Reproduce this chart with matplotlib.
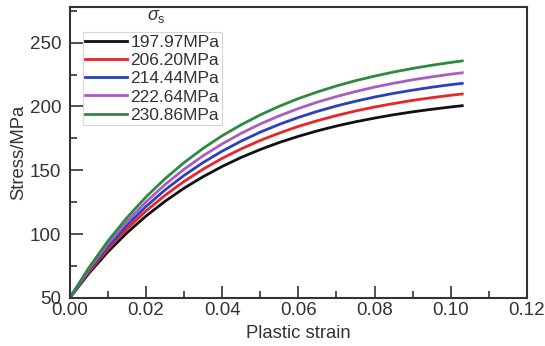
import numpy as np
import matplotlib.pyplot as plt

plt.rcParams['font.family'] = ['Liberation Sans', 'DejaVu Sans']
plt.rcParams['mathtext.fontset'] = 'custom'
plt.rcParams['mathtext.it'] = 'Liberation Sans:italic'
plt.rcParams['mathtext.rm'] = 'Liberation Sans'

# strain points and stress values
strain = [0.0, 0.005, 0.01, 0.015, 0.02, 0.025, 0.03, 0.035, 0.04, 0.045, 0.05,
          0.055, 0.06, 0.065, 0.07, 0.075, 0.08, 0.085, 0.09, 0.095, 0.1, 0.103]
s_19797 = [50, 69.2, 86.1, 101.0, 114.1, 125.7, 136.0, 145.0, 153.0, 160.1, 166.3,
           171.8, 176.6, 180.9, 184.7, 188.0, 190.9, 193.5, 195.8, 197.8, 199.6, 200.6]
s_20620 = [50, 70.3, 88.3, 104.1, 118.1, 130.4, 141.3, 150.9, 159.4, 166.8, 173.4,
           179.2, 184.4, 188.9, 192.9, 196.5, 199.6, 202.3, 204.8, 206.9, 208.8, 209.8]
s_21444 = [50, 71.4, 90.3, 106.9, 121.6, 134.6, 146.0, 156.1, 165.0, 172.9, 179.9,
           186.0, 191.4, 196.2, 200.4, 204.1, 207.4, 210.3, 212.8, 215.1, 217.1, 218.1]
s_22264 = [50, 72.4, 92.2, 109.7, 125.2, 138.8, 150.8, 161.4, 170.7, 179.0, 186.3,
           192.7, 198.4, 203.4, 207.8, 211.7, 215.2, 218.2, 220.9, 223.2, 225.3, 226.4]
s_23086 = [50, 73.6, 94.5, 112.9, 129.1, 143.4, 156.0, 167.2, 177.1, 185.7, 193.4,
           200.2, 206.2, 211.4, 216.1, 220.2, 223.8, 227.0, 229.8, 232.3, 234.5, 235.7]

labels = ['197.97MPa', '206.20MPa', '214.44MPa', '222.64MPa', '230.86MPa']
colors = ['#111111', '#e8262a', '#2b3fbf', '#a95cc4', '#2e8b3e']
series = [s_19797, s_20620, s_21444, s_22264, s_23086]

fig = plt.figure(figsize=(5.45, 3.46), dpi=100)
ax = fig.add_axes([0.128, 0.139, 0.839, 0.841])

for ys, c, lab in zip(series, colors, labels):
    ax.plot(strain, ys, color=c, lw=2, label=lab)

ax.set_xlim(0, 0.12)
ax.set_ylim(50, 278)
ax.set_xticks(np.arange(0, 0.121, 0.02))
ax.set_xticks(np.arange(0, 0.121, 0.01), minor=True)
ax.set_yticks([50, 100, 150, 200, 250])
ax.set_yticks(np.arange(50, 276, 25), minor=True)
ax.xaxis.set_major_formatter(plt.FormatStrFormatter('%.2f'))

ax.tick_params(which='both', direction='in', colors='#333333', labelsize=13.5,
               top=False, right=False, width=1.2)
ax.tick_params(which='major', length=9)
ax.tick_params(which='minor', length=5)
ax.tick_params(axis='y', which='major', pad=6)
ax.tick_params(axis='x', which='major', pad=3)
for sp in ax.spines.values():
    sp.set_color('#333333')
    sp.set_linewidth(1.5)

ax.set_xlabel('Plastic strain', fontsize=13.3, color='#333333')
ax.set_ylabel('Stress/MPa', fontsize=13.3, color='#333333')
ax.xaxis.set_label_coords(0.5, -0.093)
ax.yaxis.set_label_coords(-0.092, 0.5)

leg = ax.legend(loc='upper left', bbox_to_anchor=(0.028, 0.914), borderaxespad=0,
                fontsize=12.5, labelspacing=0.18, handlelength=2.4, handletextpad=0.2,
                borderpad=0.15, frameon=True, fancybox=False)
leg.get_frame().set_edgecolor('#cccccc')
leg.get_frame().set_linewidth(0.8)
for t in leg.get_texts():
    t.set_color('#333333')

ax.text(0.19, 0.966, r'$\sigma_\mathrm{s}$', transform=ax.transAxes,
        ha='center', va='center', fontsize=13, color='#333333')

fig.savefig('out.png', dpi=100)
